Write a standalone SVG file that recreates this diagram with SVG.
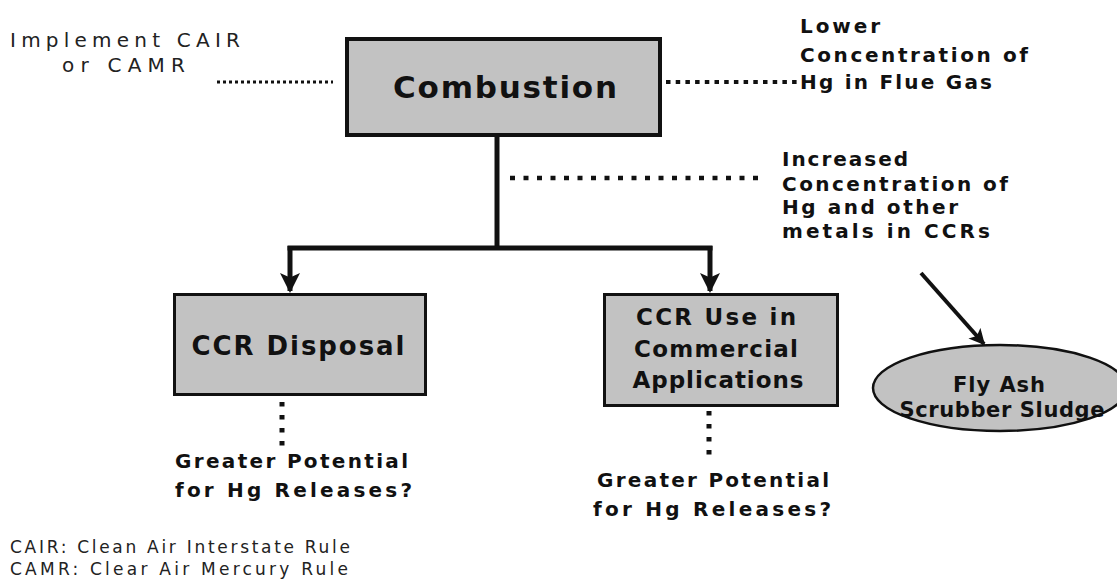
<svg xmlns="http://www.w3.org/2000/svg" width="1117" height="579" viewBox="0 0 1117 579">
<defs>
<style>
.box{fill:#c2c2c2;stroke:#111;}
.bold{font-family:"DejaVu Sans",sans-serif;font-weight:bold;fill:#111;}
.reg{font-family:"DejaVu Sans",sans-serif;fill:#222;}
.ann{font-size:20px;}
.solid{stroke:#111;fill:none;stroke-width:5;}
.dot{stroke:#111;fill:none;}
</style>
<marker id="ah" markerWidth="4" markerHeight="4" refX="3.6" refY="2" orient="auto" markerUnits="strokeWidth">
<path d="M0,0 L4,2 L0,4 L0.9,2 Z" fill="#111"/>
</marker>
</defs>
<rect width="1117" height="579" fill="#fff"/>

<g id="connectors">
<path class="solid" d="M497,137 V248"/>
<path class="solid" d="M287.5,248 H712.5"/>
<path class="solid" d="M290,246 V291" marker-end="url(#ah)"/>
<path class="solid" d="M710,246 V291" marker-end="url(#ah)"/>
<path class="solid" style="stroke-width:4" d="M921,273 L984,344" marker-end="url(#ah)"/>
<path class="dot" style="stroke-width:3" stroke-dasharray="3 3" d="M217,82 H333"/>
<path class="dot" style="stroke-width:4" stroke-dasharray="4.5 5.2" d="M666,82 H797"/>
<path class="dot" style="stroke-width:4.5" stroke-dasharray="5 8.5" d="M510,178 H766"/>
<path class="dot" style="stroke-width:5" stroke-dasharray="4.5 8.5" d="M282,402 V447"/>
<path class="dot" style="stroke-width:5" stroke-dasharray="4.5 8.5" d="M709,411 V456"/>
</g>

<g id="implement">
<text class="reg" font-size="20" x="10" y="47" textLength="230" lengthAdjust="spacing">Implement CAIR</text>
<text class="reg" font-size="20" x="62" y="72" textLength="123" lengthAdjust="spacing">or CAMR</text>
</g>

<g id="combustion">
<rect class="box" x="347" y="39" width="313" height="96" style="stroke-width:4"/>
<text class="bold" font-size="31" x="505" y="98" text-anchor="middle" textLength="224" lengthAdjust="spacing">Combustion</text>
</g>

<g id="lower">
<text class="bold ann" x="800" y="33" textLength="80" lengthAdjust="spacing">Lower</text>
<text class="bold ann" x="800" y="62" textLength="228" lengthAdjust="spacing">Concentration of</text>
<text class="bold ann" x="800" y="89" textLength="192" lengthAdjust="spacing">Hg in Flue Gas</text>
</g>

<g id="increased">
<text class="bold ann" x="782" y="166" textLength="126" lengthAdjust="spacing">Increased</text>
<text class="bold ann" x="782" y="191" textLength="226" lengthAdjust="spacing">Concentration of</text>
<text class="bold ann" x="782" y="214" textLength="176" lengthAdjust="spacing">Hg and other</text>
<text class="bold ann" x="782" y="238" textLength="208" lengthAdjust="spacing">metals in CCRs</text>
</g>

<g id="ccr-disposal">
<rect class="box" x="174.5" y="294.5" width="251" height="100" style="stroke-width:3"/>
<text class="bold" font-size="26" x="298" y="355" text-anchor="middle" textLength="213" lengthAdjust="spacing">CCR Disposal</text>
</g>

<g id="ccr-use">
<rect class="box" x="604.5" y="294.5" width="233" height="111" style="stroke-width:3"/>
<text class="bold" font-size="23" x="716" y="325" text-anchor="middle" textLength="160" lengthAdjust="spacing">CCR Use in</text>
<text class="bold" font-size="23" x="716" y="357" text-anchor="middle" textLength="164" lengthAdjust="spacing">Commercial</text>
<text class="bold" font-size="23" x="718" y="388" text-anchor="middle" textLength="171" lengthAdjust="spacing">Applications</text>
</g>

<g id="fly-ash">
<ellipse class="box" cx="1000" cy="388" rx="127" ry="43" style="stroke-width:2.5"/>
<text class="bold" font-size="21" x="999" y="392" text-anchor="middle" textLength="92" lengthAdjust="spacing">Fly Ash</text>
<text class="bold" font-size="21" x="1002" y="417" text-anchor="middle" textLength="205" lengthAdjust="spacing">Scrubber Sludge</text>
</g>

<g id="greater-left">
<text class="bold ann" x="175" y="468" textLength="233" lengthAdjust="spacing">Greater Potential</text>
<text class="bold ann" x="175" y="497" textLength="237" lengthAdjust="spacing">for Hg Releases?</text>
</g>

<g id="greater-right">
<text class="bold ann" x="597" y="487" textLength="232" lengthAdjust="spacing">Greater Potential</text>
<text class="bold ann" x="593" y="516" textLength="238" lengthAdjust="spacing">for Hg Releases?</text>
</g>

<g id="footnote">
<text class="reg" font-size="17" x="10" y="553" textLength="340" lengthAdjust="spacing">CAIR: Clean Air Interstate Rule</text>
<text class="reg" font-size="17" x="10" y="575" textLength="338" lengthAdjust="spacing">CAMR: Clear Air Mercury Rule</text>
</g>
</svg>
